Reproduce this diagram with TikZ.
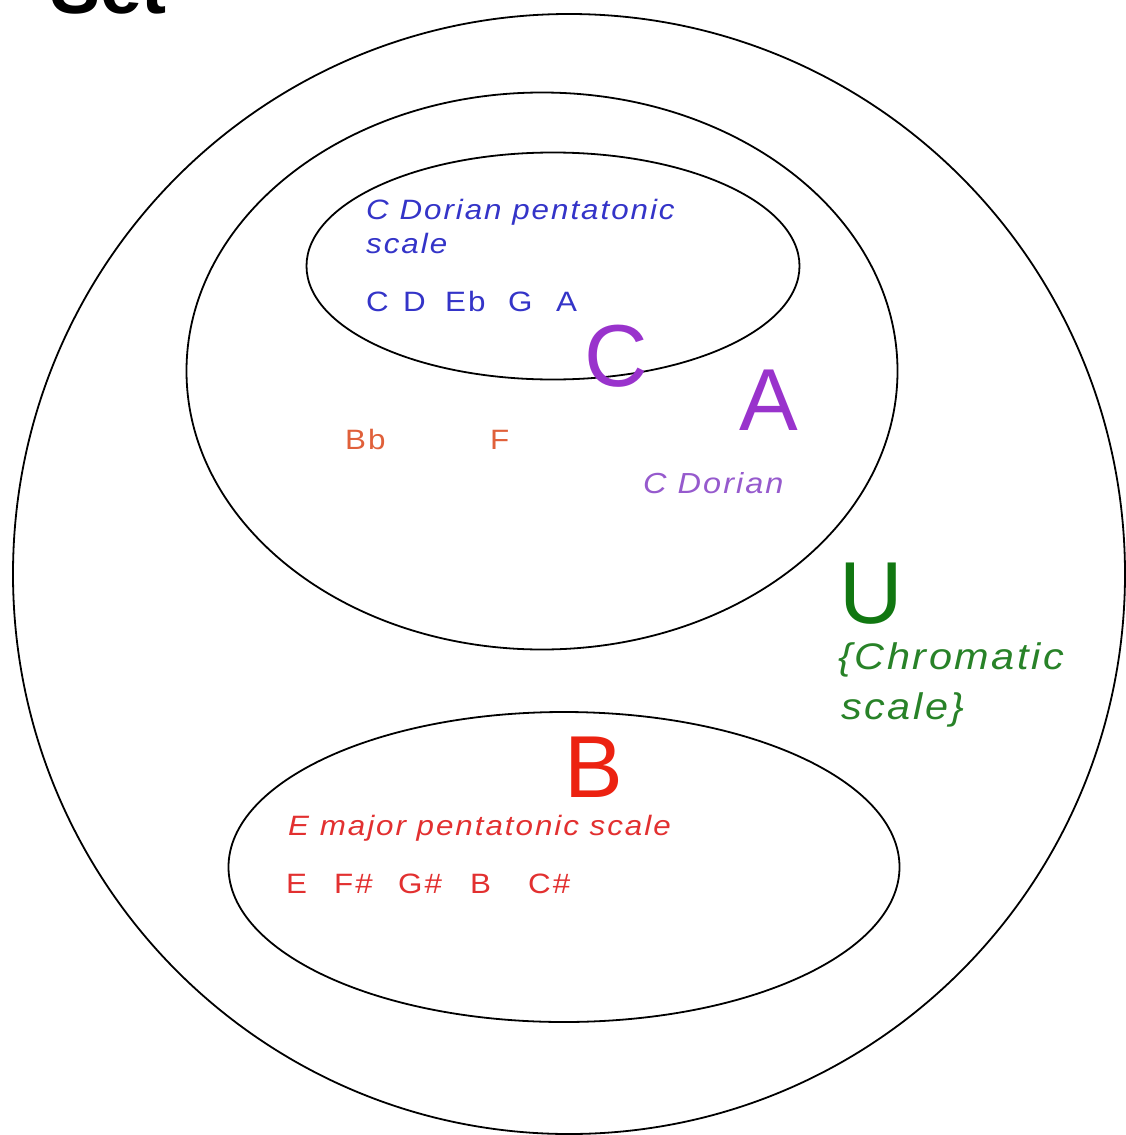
\documentclass[tikz,border=0pt]{standalone}
\usepackage{fontspec}
\setmainfont{Liberation Sans}
\newfontfamily\lblfont[FakeStretch=1.12,LetterSpace=7]{Liberation Sans}
\usetikzlibrary{shapes.geometric}
\definecolor{noteblue}{RGB}{52,52,200}
\definecolor{setpurple}{RGB}{153,51,204}
\definecolor{lightpurple}{RGB}{150,90,205}
\definecolor{setred}{RGB}{236,34,17}
\definecolor{notered}{RGB}{226,48,48}
\definecolor{noteorange}{RGB}{224,96,58}
\definecolor{setgreen}{RGB}{17,119,17}
\definecolor{labelgreen}{RGB}{40,130,40}
\begin{document}
\begin{tikzpicture}[x=1pt,y=-1pt,
  setring/.style={ellipse, draw=black, line width=1.8pt, inner sep=0pt, outer sep=0pt},
  bigletter/.style={anchor=base, inner sep=0pt, font=\fontsize{88}{88}\selectfont},
  notetext/.style={anchor=base west, inner sep=0pt, font=\lblfont\fontsize{28}{28}\selectfont},
  scalename/.style={anchor=base west, inner sep=0pt, font=\lblfont\itshape\fontsize{28}{28}\selectfont}
]
\useasboundingbox (0,0) rectangle (1126,1135);

% title (mostly above the visible area, as in the reference)
\node[anchor=base west, inner sep=0pt, font=\bfseries\fontsize{75}{75}\selectfont] (title) at (50,13) {Set};

% sets
\node[setring, minimum width=1112pt, minimum height=1120pt] (U) at (569,574) {};
\node[setring, minimum width=711pt, minimum height=557pt] (A) at (542,371) {};
\node[setring, minimum width=493pt, minimum height=227pt] (C) at (553,266) {};
\node[setring, minimum width=671pt, minimum height=310pt] (B) at (564,867) {};

% C : Dorian pentatonic
\node[scalename, text=noteblue] (cname1) at (366,219) {C Dorian pentatonic};
\node[scalename, text=noteblue] (cname2) at (366,253) {scale};
\node[notetext, text=noteblue] (cC) at (366,311) {C};
\node[notetext, text=noteblue] (cD) at (403,311) {D};
\node[notetext, text=noteblue] (cEb) at (445,311) {Eb};
\node[notetext, text=noteblue] (cG) at (508,311) {G};
\node[notetext, text=noteblue] (cA) at (556,311) {A};
\node[bigletter, text=setpurple] (labC) at (616,386) {C};

% A : Dorian
\node[bigletter, text=setpurple] (labA) at (769,430) {A};
\node[scalename, text=lightpurple, font=\lblfont\itshape\fontsize{29}{29}\selectfont] (aname) at (643,493) {C Dorian};
\node[notetext, text=noteorange] (aBb) at (345,449) {Bb};
\node[notetext, text=noteorange] (aF) at (490,449) {F};

% U : chromatic
\node[bigletter, text=setgreen] (labU) at (871,623) {U};
\node[anchor=base west, inner sep=0pt, text=labelgreen, font=\lblfont\itshape\fontsize{37}{37}\selectfont] (uname1) at (838,669) {\{Chromatic};
\node[anchor=base west, inner sep=0pt, text=labelgreen, font=\lblfont\itshape\fontsize{37}{37}\selectfont] (uname2) at (841,719) {scale\}};

% B : E major pentatonic
\node[bigletter, text=setred] (labB) at (594,797) {B};
\node[scalename, text=notered] (bname) at (288,835) {E major pentatonic scale};
\node[notetext, text=notered] (bE) at (286,893) {E};
\node[notetext, text=notered] (bFs) at (334,893) {F\#};
\node[notetext, text=notered] (bGs) at (398,893) {G\#};
\node[notetext, text=notered] (bB) at (470,893) {B};
\node[notetext, text=notered] (bCs) at (528,893) {C\#};
\end{tikzpicture}
\end{document}
